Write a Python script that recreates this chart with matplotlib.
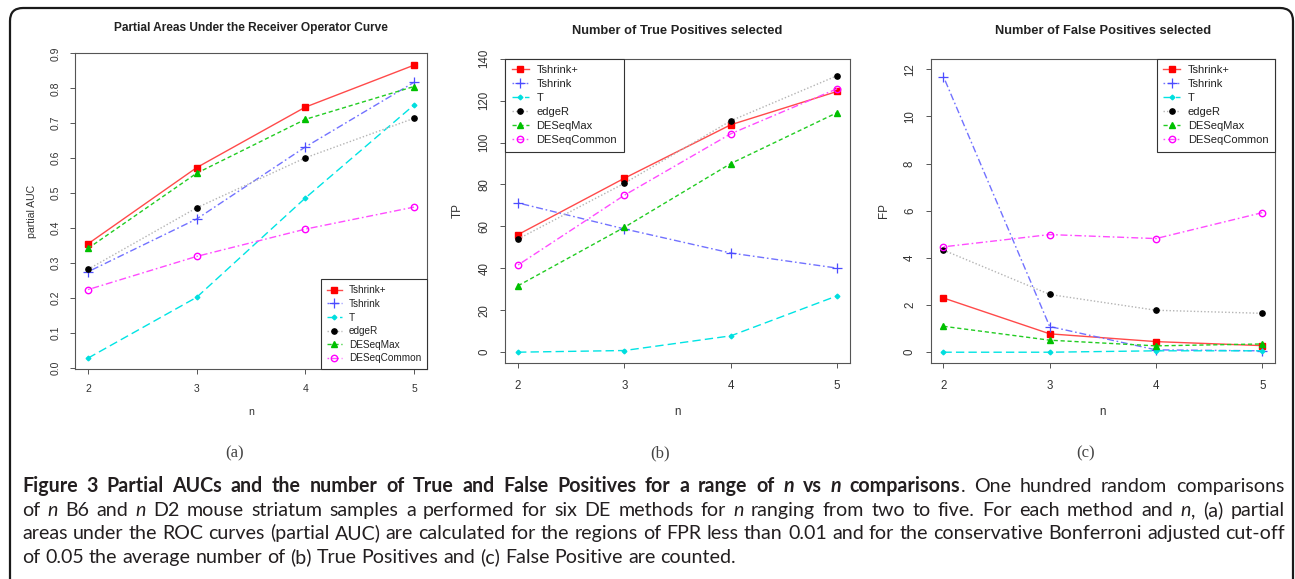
import matplotlib
matplotlib.use("Agg")
import matplotlib.pyplot as plt
from matplotlib.patches import FancyBboxPatch
from matplotlib.transforms import IdentityTransform

W, H = 1295, 579

n_vals = [2, 3, 4, 5]
methods = ["Tshrink+", "Tshrink", "T", "edgeR", "DESeqMax", "DESeqCommon"]

# (a) partial AUC
auc_tshrink_plus = [0.355, 0.573, 0.746, 0.866]
auc_tshrink = [0.275, 0.426, 0.632, 0.817]
auc_t = [0.028, 0.202, 0.486, 0.752]
auc_edger = [0.282, 0.458, 0.601, 0.714]
auc_deseq_max = [0.342, 0.557, 0.711, 0.805]
auc_deseq_common = [0.224, 0.319, 0.397, 0.460]

# (b) true positives
tp_tshrink_plus = [56.1, 83.0, 108.5, 124.4]
tp_tshrink = [71.2, 58.8, 47.3, 40.1]
tp_t = [0.0, 0.8, 7.8, 26.9]
tp_edger = [54.0, 80.6, 110.4, 131.9]
tp_deseq_max = [31.7, 59.6, 90.0, 114.3]
tp_deseq_common = [41.6, 74.9, 104.2, 125.7]

# (c) false positives
fp_tshrink_plus = [2.30, 0.78, 0.45, 0.28]
fp_tshrink = [11.69, 1.09, 0.10, 0.06]
fp_t = [0.0, 0.0, 0.06, 0.06]
fp_edger = [4.33, 2.45, 1.78, 1.65]
fp_deseq_max = [1.10, 0.51, 0.27, 0.35]
fp_deseq_common = [4.47, 4.99, 4.82, 5.92]

auc_ticks = [0.0, 0.1, 0.2, 0.3, 0.4, 0.5, 0.6, 0.7, 0.8, 0.9]
auc_ticklabels = ["0.0", "0.1", "0.2", "0.3", "0.4", "0.5", "0.6", "0.7", "0.8", "0.9"]
tp_ticks = [0, 20, 40, 60, 80, 100, 120, 140]
fp_ticks = [0, 2, 4, 6, 8, 10, 12]

titles = ["Partial Areas Under the Receiver Operator Curve",
          "Number of True Positives selected",
          "Number of False Positives selected"]
ylabels = ["partial AUC", "TP", "FP"]
sublabels = ["(a)", "(b)", "(c)"]

caption_lines = [
    [("Figure 3 Partial AUCs and the number of True and False Positives for a range of ", "b"),
     ("n", "bi"), (" vs ", "b"), ("n", "bi"), (" comparisons", "b"),
     (". One hundred random comparisons", "r")],
    [("of ", "r"), ("n", "i"), (" B6 and ", "r"), ("n", "i"),
     (" D2 mouse striatum samples a performed for six DE methods for ", "r"), ("n", "i"),
     (" ranging from two to five. For each method and ", "r"), ("n", "i"), (", (a) partial", "r")],
    [("areas under the ROC curves (partial AUC) are calculated for the regions of FPR less "
      "than 0.01 and for the conservative Bonferroni adjusted cut-off", "r")],
    [("of 0.05 the average number of (b) True Positives and (c) False Positive are counted.", "r")],
]

styles = {
    "Tshrink+": dict(color="#ff4a4a", ls="-", marker="s", mfc="#ff0000", mec="#ff0000", ms=4.2),
    "Tshrink": dict(color="#7272ff", ls=(0, (1.2, 2, 5, 2)), marker="+", mec="#4c4cff", ms=6.5, mew=0.9),
    "T": dict(color="#00e4e4", ls=(0, (6, 3)), marker="D", mfc="#00dede", mec="#00dede", ms=2.4),
    "edgeR": dict(color="#b4b4b4", ls=(0, (1, 1.5)), marker="o", mfc="black", mec="black", ms=3.8),
    "DESeqMax": dict(color="#22cc22", ls=(0, (3, 2)), marker="^", mfc="#00c000", mec="#00c000", ms=4.6),
    "DESeqCommon": dict(color="#ff4cff", ls=(0, (1.2, 2, 5, 2)), marker="o", mfc="none", mec="#ff00ff",
                        ms=4.6, mew=1.0),
}

plt.rcParams["font.family"] = ["Liberation Sans", "DejaVu Sans"]

fig = plt.figure(figsize=(W / 100, H / 100), dpi=100)

# box edges in pixels: left, top, right, bottom
boxes = [(75, 53.3, 427, 369.3), (505.3, 58.7, 850, 363.3), (930.7, 58.7, 1275, 363.3)]
ylims = [(-0.004, 0.9), (-5.3, 140), (-0.47, 12.45)]
fsizes = [7.2, 8.0, 8.0]
title_sizes = [8.6, 9.3, 9.3]
legend_locs = ["lower right", "upper left", "upper right"]
legend_anchor = [(1, 0), (0, 1), (1, 1)]
ylab_x = [32, 458, 884]
title_y = [28, 31, 31]
sub_x = [235, 660, 1086]

panel_data = [
    [auc_tshrink_plus, auc_tshrink, auc_t, auc_edger, auc_deseq_max, auc_deseq_common],
    [tp_tshrink_plus, tp_tshrink, tp_t, tp_edger, tp_deseq_max, tp_deseq_common],
    [fp_tshrink_plus, fp_tshrink, fp_t, fp_edger, fp_deseq_max, fp_deseq_common],
]
panel_ticks = [(auc_ticks, auc_ticklabels),
               (tp_ticks, [str(v) for v in tp_ticks]),
               (fp_ticks, [str(v) for v in fp_ticks])]

for i in range(3):
    l, t, r, b = boxes[i]
    ax = fig.add_axes([l / W, 1 - b / H, (r - l) / W, (b - t) / H])
    fs = fsizes[i]
    for name, vals in zip(methods, panel_data[i]):
        ax.plot(n_vals, vals, lw=1.0, label=name, **styles[name])
    ax.set_xlim(1.88, 5.12)
    ax.set_ylim(*ylims[i])
    ax.set_xticks(n_vals)
    ax.set_xticklabels([str(v) for v in n_vals])
    ax.set_yticks(panel_ticks[i][0])
    ax.set_yticklabels(panel_ticks[i][1], rotation=90, va="center")
    for s in ax.spines.values():
        s.set_color("#555555")
        s.set_linewidth(0.8)
    ax.tick_params(direction="out", length=3.6, width=0.7, color="#555555",
                   labelsize=fs + 0.3, labelcolor="#333333")
    ax.tick_params(axis="x", pad=7 if i == 0 else 8.5)
    ax.tick_params(axis="y", pad=6.5 if i == 0 else 7)

    ax.set_title(titles[i], fontsize=title_sizes[i], fontweight="bold", color="#222222",
                 y=1 + (t - title_y[i]) / (b - t), va="center", pad=0)
    ax.set_xlabel("n", fontsize=fs + 0.4, color="#333333")
    ax.xaxis.label.set_va("center")
    ax.xaxis.set_label_coords(0.5, -(412 - b) / (b - t))
    ax.set_ylabel(ylabels[i], fontsize=fs + 0.4, color="#333333")
    ax.yaxis.label.set_va("center")
    ax.yaxis.set_label_coords((ylab_x[i] - l) / (r - l), 0.5)

    leg = ax.legend(loc=legend_locs[i], bbox_to_anchor=legend_anchor[i], borderaxespad=0,
                    fontsize=fs, frameon=True, fancybox=False, framealpha=1, numpoints=1,
                    handlelength=1.5, handletextpad=0.7, borderpad=0.6, labelspacing=0.36)
    leg.get_frame().set_edgecolor("#333333")
    leg.get_frame().set_linewidth(0.8)
    for txt in leg.get_texts():
        txt.set_color("#222222")

    fig.text(sub_x[i] / W, 1 - 453 / H, sublabels[i], fontsize=12, family="Liberation Serif",
             color="#444444", ha="center", va="center")

# rounded frame around the figure
frame = FancyBboxPatch((10, -40), 1283, 40 + H - 8, boxstyle="round,pad=0,rounding_size=13",
                       transform=IdentityTransform(), fill=False, lw=1.6, ec="#1a1a1a")
fig.add_artist(frame)

# caption, justified
CAP_FONT = ["Lato", "DejaVu Sans"]
cap_left, cap_right = 22, 1285
baselines = [492, 516, 539, 563]
renderer = fig.canvas.get_renderer()


def make_text(s, st, size):
    return fig.text(0, 0, s, fontsize=size, family=CAP_FONT,
                    weight="bold" if "b" in st else "normal",
                    style="italic" if "i" in st else "normal",
                    color="#231f20", ha="left", va="baseline")


def split_words(segments):
    words = [[]]
    for text, st in segments:
        parts = text.split(" ")
        for k, p in enumerate(parts):
            if k > 0:
                words.append([])
            if p:
                words[-1].append((p, st))
    return [w for w in words if w]


def measure(words, size):
    out = []
    for w in words:
        segs = []
        for s, st in w:
            tx = make_text(s, st, size)
            wpx = tx.get_window_extent(renderer).width
            segs.append((tx, wpx))
        out.append(segs)
    return out


def space_width(size):
    a = make_text("x x", "r", size)
    bb = make_text("xx", "r", size)
    d = a.get_window_extent(renderer).width - bb.get_window_extent(renderer).width
    a.remove()
    bb.remove()
    return d


def natural_width(words, size, space_scale=1.0):
    m = measure(words, size)
    wsum = sum(wp + 0.6 * (len(segs) - 1) for segs in m for _, wp in segs)
    for segs in m:
        for tx, _ in segs:
            tx.remove()
    return wsum + (len(words) - 1) * space_width(size) * space_scale


all_words = [split_words(segs) for segs in caption_lines]
span = cap_right - cap_left
# base size: the plain third line fills the width with normal spacing
cap_size = 12 * span * 0.995 / natural_width(all_words[2], 12)
line_sizes = []
for li, words in enumerate(all_words):
    s = cap_size
    if li < 3:
        nw = natural_width(words, s, 0.75)
        if nw > span:
            s = s * span / nw
    line_sizes.append(s)

for li, words in enumerate(all_words):
    size = line_sizes[li]
    meas = measure(words, size)
    total = sum(wp + 0.6 * (len(segs) - 1) for segs in meas for _, wp in segs)
    if li < len(all_words) - 1:
        gap = (span - total) / (len(meas) - 1)
    else:
        gap = space_width(size)
    x = cap_left
    for segs in meas:
        for tx, wp in segs:
            tx.set_position((x / W, 1 - baselines[li] / H))
            x += wp + 0.6
        x += gap - 0.6

fig.savefig("out.png", dpi=100)
